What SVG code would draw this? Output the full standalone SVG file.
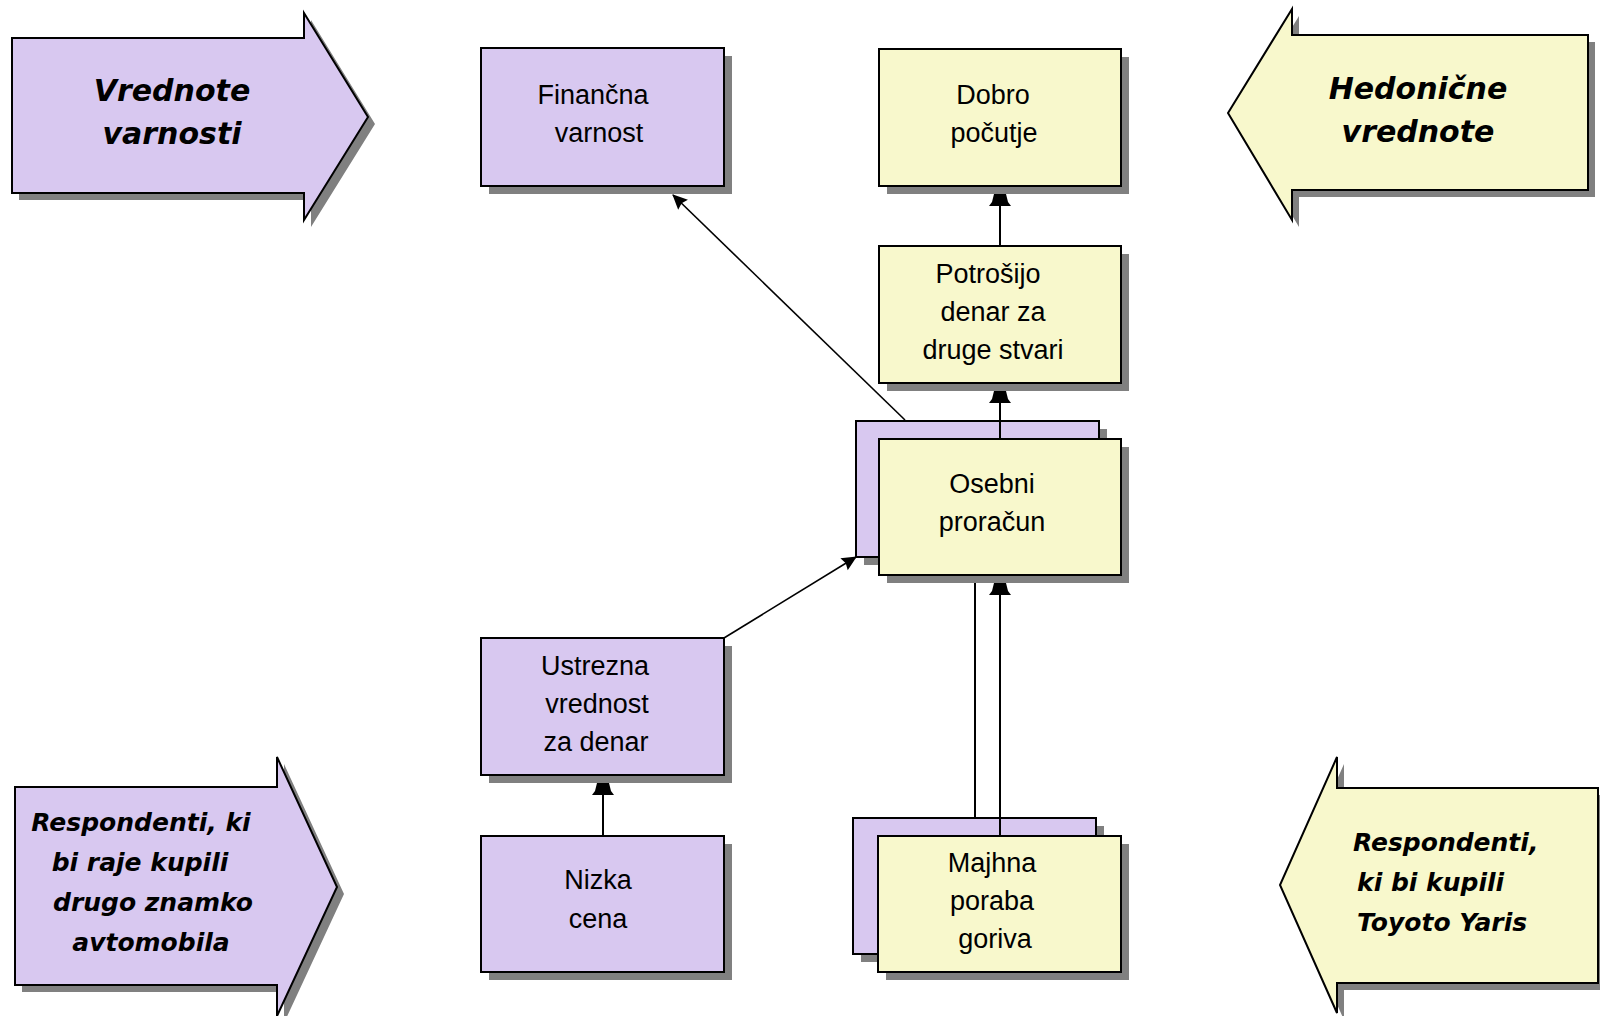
<svg xmlns="http://www.w3.org/2000/svg" width="1600" height="1016" viewBox="0 0 1600 1016">
<style>
.p{fill:#D8C8F0;stroke:#000;stroke-width:2}
.y{fill:#F8F8CC;stroke:#000;stroke-width:2}
.sh{fill:#808080}
.t{font-family:"Liberation Sans",Arial,sans-serif;font-size:27px;fill:#000;text-anchor:middle}
.bt{font-family:"DejaVu Sans",Verdana,sans-serif;font-weight:bold;font-style:italic;fill:#000}
.c{stroke:#000;stroke-width:2;fill:none}
.d{stroke:#000;stroke-width:1.6;fill:none}
</style>
<defs>
<marker id="ah" markerUnits="userSpaceOnUse" markerWidth="24" markerHeight="24" refX="0" refY="0" orient="auto" overflow="visible">
<path d="M0,-6 L0,6 L-8,8 L-12,11 L-12,-11 L-8,-8 Z" fill="#000"/>
</marker>
<marker id="ad" markerUnits="userSpaceOnUse" markerWidth="24" markerHeight="24" refX="0" refY="0" orient="auto" overflow="visible">
<path d="M1,0 L-14,-7 L-12,0 L-14,7 Z" fill="#000"/>
</marker>
</defs>
<rect width="1600" height="1016" fill="#fff"/>

<g id="arrow-vrednote-varnosti">
<polygon class="sh" points="19,45 311,45 311,20 375,124 311,227 311,200 19,200"/>
<polygon class="p" points="12,38 304,38 304,13 368,117 304,220 304,193 12,193"/>
<text class="bt" font-size="30" text-anchor="middle"><tspan x="172" y="101">Vrednote</tspan><tspan x="172" y="144">varnosti</tspan></text>
</g>

<g id="arrow-hedonicne">
<polygon class="sh" points="1595,42 1299,42 1299,16 1235,120 1299,227 1299,197 1595,197"/>
<polygon class="y" points="1588,35 1292,35 1292,9 1228,113 1292,220 1292,190 1588,190"/>
<text class="bt" font-size="30" text-anchor="middle"><tspan x="1418" y="99">Hedonične</tspan><tspan x="1418" y="142">vrednote</tspan></text>
</g>

<g id="arrow-druga-znamka">
<polygon class="sh" points="22,794 284,794 284,764 344,894 284,1023 284,992 22,992"/>
<polygon class="p" points="15,787 277,787 277,757 337,887 277,1016 277,985 15,985"/>
<text class="bt" font-size="25" text-anchor="middle"><tspan x="141" y="831">Respondenti, ki</tspan><tspan x="140" y="871">bi raje kupili</tspan><tspan x="153" y="911">drugo znamko</tspan><tspan x="151" y="951">avtomobila</tspan></text>
</g>

<g id="arrow-toyota">
<polygon class="sh" points="1605,795 1344,795 1344,764 1287,892 1344,1020 1344,990 1605,990"/>
<polygon class="y" points="1598,788 1337,788 1337,757 1280,885 1337,1013 1337,983 1598,983"/>
<text class="bt" font-size="25"><tspan x="1353" y="851">Respondenti,</tspan><tspan x="1357" y="891">ki bi kupili</tspan><tspan x="1357" y="931">Toyoto Yaris</tspan></text>
</g>

<g id="node-financna-varnost">
<rect class="sh" x="489" y="56" width="243" height="138"/>
<rect class="p" x="481" y="48" width="243" height="138"/>
<text class="t"><tspan x="593" y="104">Finančna</tspan><tspan x="599" y="142">varnost</tspan></text>
</g>

<g id="node-dobro-pocutje">
<rect class="sh" x="887" y="57" width="242" height="137"/>
<rect class="y" x="879" y="49" width="242" height="137"/>
<text class="t"><tspan x="993" y="104">Dobro</tspan><tspan x="994" y="142">počutje</tspan></text>
</g>

<g id="node-potrosijo">
<rect class="sh" x="887" y="254" width="242" height="137"/>
<rect class="y" x="879" y="246" width="242" height="137"/>
<text class="t"><tspan x="988" y="283">Potrošijo</tspan><tspan x="993" y="321">denar za</tspan><tspan x="993" y="359">druge stvari</tspan></text>
</g>

<g id="node-osebni-proracun">
<rect class="sh" x="864" y="429" width="243" height="136"/>
<rect class="p" x="856" y="421" width="243" height="136"/>
<rect class="sh" x="887" y="447" width="242" height="136"/>
<rect class="y" x="879" y="439" width="242" height="136"/>
<text class="t"><tspan x="992" y="493">Osebni</tspan><tspan x="992" y="531">proračun</tspan></text>
</g>

<g id="node-ustrezna-vrednost">
<rect class="sh" x="489" y="646" width="243" height="137"/>
<rect class="p" x="481" y="638" width="243" height="137"/>
<text class="t"><tspan x="595" y="675">Ustrezna</tspan><tspan x="597" y="713">vrednost</tspan><tspan x="596" y="751">za denar</tspan></text>
</g>

<g id="node-nizka-cena">
<rect class="sh" x="489" y="844" width="243" height="136"/>
<rect class="p" x="481" y="836" width="243" height="136"/>
<text class="t"><tspan x="598" y="889">Nizka</tspan><tspan x="598" y="928">cena</tspan></text>
</g>

<g id="node-majhna-poraba">
<rect class="sh" x="861" y="826" width="243" height="136"/>
<rect class="p" x="853" y="818" width="243" height="136"/>
<rect class="sh" x="886" y="844" width="243" height="136"/>
<rect class="y" x="878" y="836" width="243" height="136"/>
<text class="t"><tspan x="992" y="872">Majhna</tspan><tspan x="992" y="910">poraba</tspan><tspan x="995" y="948">goriva</tspan></text>
</g>

<g id="connectors">
<line class="c" x1="1000" y1="246" x2="1000" y2="194" marker-end="url(#ah)"/>
<line class="c" x1="1000" y1="439" x2="1000" y2="391" marker-end="url(#ah)"/>
<line class="d" x1="905" y1="420" x2="673" y2="195" marker-end="url(#ad)"/>
<line class="d" x1="724" y1="638" x2="856" y2="557" marker-end="url(#ad)"/>
<line class="c" x1="603" y1="836" x2="603" y2="783" marker-end="url(#ah)"/>
<line class="c" x1="975" y1="818" x2="975" y2="583"/>
<line class="c" x1="1000" y1="836" x2="1000" y2="583" marker-end="url(#ah)"/>
</g>
</svg>
